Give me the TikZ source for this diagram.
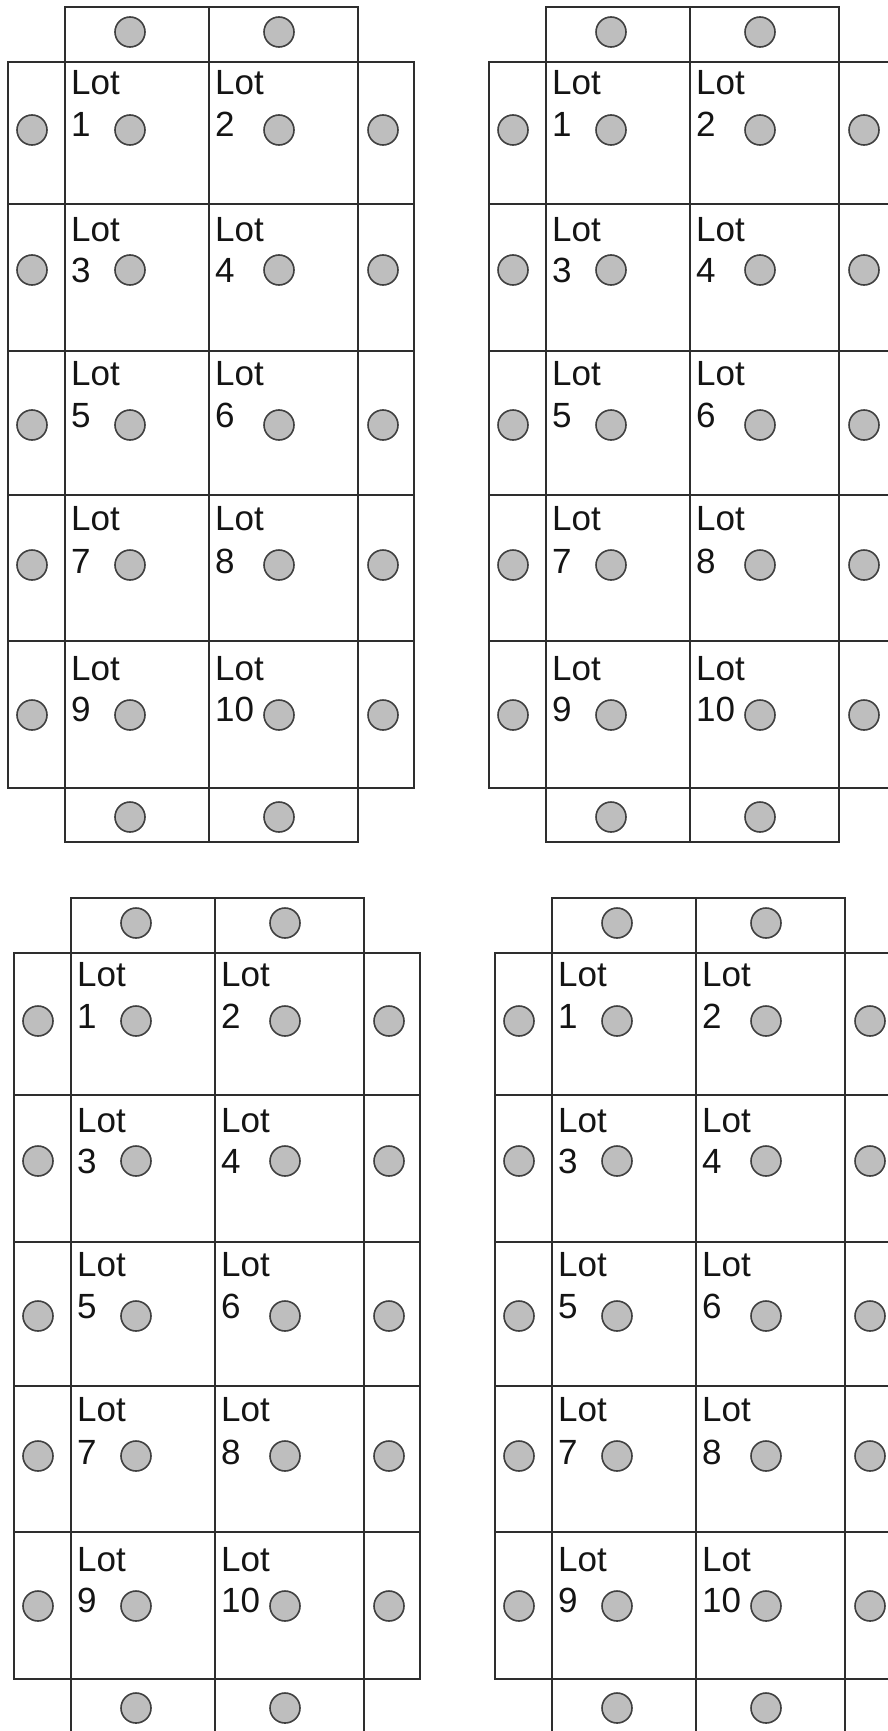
\documentclass[tikz,border=0pt]{standalone}
\usepackage{fontspec}
\setmainfont{Liberation Sans}
\definecolor{lineC}{HTML}{2E2E2E}
\definecolor{dotFill}{HTML}{BEBEBE}
\definecolor{dotLine}{HTML}{404040}
\definecolor{txtC}{HTML}{141414}
\tikzset{
  plotline/.style={draw=lineC, line width=2pt},
  strip/.style={draw=lineC, line width=1.8pt},
  dot/.style={circle, draw=dotLine, fill=dotFill, line width=1.6pt, minimum size=30pt, inner sep=0pt},
  lbl/.style={anchor=base west, inner sep=0pt, text=txtC, font=\fontsize{35}{42}\selectfont}
}
\begin{document}
\begin{tikzpicture}[x=1pt, y=-1pt]
\useasboundingbox (0,0) rectangle (888,1731);
\clip (0,0) rectangle (888,1731);
\fill[white] (0,0) rectangle (888,1731);
\foreach \bx/\by/\bn in {0/0/A, 481/0/B, 6/891/C, 487/891/D} {
  \begin{scope}[shift={(\bx,\by)}]
    % top strip
    \draw[strip] (65,7) rectangle (209,62);
    \draw[strip] (209,7) rectangle (358,62);
    \node[dot] (\bn-top1) at (130,32) {};
    \node[dot] (\bn-top2) at (279,32) {};
    % bottom strip
    \draw[strip] (65,788) rectangle (209,842);
    \draw[strip] (209,788) rectangle (358,842);
    \node[dot] (\bn-bot1) at (130,817) {};
    \node[dot] (\bn-bot2) at (279,817) {};
    % rows
    \foreach \k/\t/\b/\lb/\nbase/\cy in {1/62/204/95/137/130, 2/204/351/241/282/270, 3/351/495/385/427/425, 4/495/641/530/573/565, 5/641/788/680/721/715} {
      \pgfmathtruncatemacro\na{2*\k-1}
      \pgfmathtruncatemacro\nc{2*\k}
      \draw[strip] (8,\t) rectangle (65,\b);
      \draw[strip] (358,\t) rectangle (414,\b);
      \draw[plotline] (65,\t) rectangle (209,\b);
      \draw[plotline] (209,\t) rectangle (358,\b);
      \node[dot] (\bn-left\k) at (32,\cy) {};
      \node[dot] (\bn-right\k) at (383,\cy) {};
      \node[dot] (\bn-lot\na-dot) at (130,\cy) {};
      \node[dot] (\bn-lot\nc-dot) at (279,\cy) {};
      \node[lbl] (\bn-lot\na-word) at (71,\lb) {Lot};
      \node[lbl] (\bn-lot\na-num) at (71,\nbase) {\na};
      \node[lbl] (\bn-lot\nc-word) at (215,\lb) {Lot};
      \node[lbl] (\bn-lot\nc-num) at (215,\nbase) {\nc};
    }
  \end{scope}
}
\end{tikzpicture}
\end{document}
